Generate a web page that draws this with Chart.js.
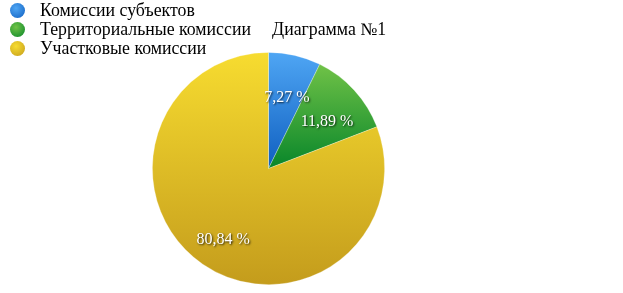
<!DOCTYPE html>
<html><head><meta charset="utf-8">
<script src="https://cdn.jsdelivr.net/npm/chart.js@4"></script>
<style>
html,body{margin:0;padding:0;background:#fff;}
#wrap{position:relative;width:623px;height:293px;overflow:hidden;}
#c{position:absolute;left:0;top:0;}
.leg{position:absolute;left:0;top:0;font-family:"Liberation Serif","DejaVu Serif",serif;font-size:17.8px;color:#000;}
.row{position:absolute;left:8px;white-space:nowrap;height:19px;line-height:19px;}
.dot{position:absolute;left:2px;top:2px;width:15px;height:15px;border-radius:50%;}
.txt{position:absolute;left:32px;top:0;}
#title{position:absolute;left:272px;top:20px;font-family:"Liberation Serif","DejaVu Serif",serif;font-size:17.8px;color:#000;line-height:19px;white-space:nowrap;}
</style></head>
<body><div id="wrap"><canvas id="c" width="623" height="293"></canvas><div class="leg" id="leg"></div><div id="title"></div></div>
<script>
const categories = ["Комиссии субъектов", "Территориальные комиссии", "Участковые комиссии"];
const values = [7.27, 11.89, 80.84];
const valueLabels = ["7,27 %", "11,89 %", "80,84 %"];
const titleText = "Диаграмма №1";

const topColors = ["#4fa6f4", "#70c247", "#f7dc30"];
const botColors = ["#0f5fc0", "#08862a", "#c49c1c"];

const leg = document.getElementById('leg');
categories.forEach((c, i) => {
  const r = document.createElement('div');
  r.className = 'row';
  r.style.top = (1 + i * 19) + 'px';
  const d = document.createElement('div');
  d.className = 'dot';
  d.style.background = `radial-gradient(circle at 40% 35%, ${topColors[i]}, ${botColors[i]})`;
  const t = document.createElement('div');
  t.className = 'txt';
  t.textContent = c;
  r.appendChild(d); r.appendChild(t);
  leg.appendChild(r);
});
document.getElementById('title').textContent = titleText;

function sliceYRange(i, cy, R) {
  const total = values.reduce((a, b) => a + b, 0);
  let start = -Math.PI / 2;
  for (let k = 0; k < i; k++) start += values[k] / total * 2 * Math.PI;
  const end = start + values[i] / total * 2 * Math.PI;
  let ys = [cy, cy + Math.sin(start) * R, cy + Math.sin(end) * R];
  [-Math.PI / 2, Math.PI / 2, 3 * Math.PI / 2].forEach(a => {
    if (a >= start && a <= end) ys.push(cy + Math.sin(a) * R);
  });
  return [Math.min(...ys), Math.max(...ys)];
}

function grad(ctx, i) {
  const chart = ctx.chart;
  const a = chart.chartArea;
  if (!a) return topColors[i];
  const cy = (a.top + a.bottom) / 2;
  const R = Math.min(a.right - a.left, a.bottom - a.top) / 2;
  const [y0, y1] = sliceYRange(i, cy, R);
  const g = chart.ctx.createLinearGradient(0, y0, 0, y1);
  g.addColorStop(0, topColors[i]);
  g.addColorStop(1, botColors[i]);
  return g;
}

const labelPlugin = {
  id: 'vlabels',
  afterDatasetsDraw(chart) {
    const meta = chart.getDatasetMeta(0);
    const c = chart.ctx;
    const radiusFactor = [0.66, 0.66, 0.72];
    const shift = [[1, 4], [2, 5], [2, 2]];
    meta.data.forEach((arc, i) => {
      const p = arc.getProps(['x', 'y', 'startAngle', 'endAngle', 'outerRadius']);
      const mid = (p.startAngle + p.endAngle) / 2;
      const r = p.outerRadius * radiusFactor[i];
      const x = p.x + Math.cos(mid) * r + shift[i][0];
      const y = p.y + Math.sin(mid) * r + shift[i][1];
      c.save();
      c.font = '16px "Liberation Serif", serif';
      c.textAlign = 'center';
      c.textBaseline = 'middle';
      c.shadowColor = 'rgba(0,0,0,0.8)';
      c.shadowBlur = 2;
      c.shadowOffsetX = 1;
      c.shadowOffsetY = 1;
      c.fillStyle = '#ffffff';
      c.fillText(valueLabels[i], x, y);
      c.restore();
    });
  }
};

new Chart(document.getElementById('c'), {
  type: 'pie',
  data: {
    labels: categories,
    datasets: [{
      data: values,
      backgroundColor: (ctx) => grad(ctx, ctx.dataIndex),
      borderWidth: 0.8,
      borderColor: 'rgba(255,255,255,0.35)'
    }]
  },
  options: {
    responsive: false,
    animation: false,
    events: [],
    layout: { padding: { left: 150, right: 236, top: 52, bottom: 8 } },
    plugins: { legend: { display: false }, tooltip: { enabled: false }, title: { display: false } }
  },
  plugins: [labelPlugin]
});
</script></body></html>
